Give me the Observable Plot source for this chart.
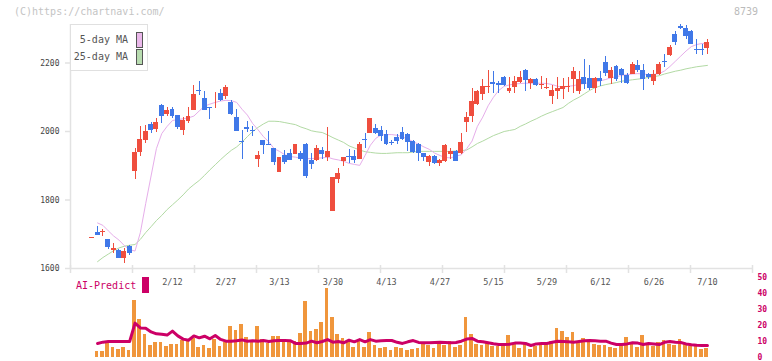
<!DOCTYPE html>
<html><head><meta charset="utf-8">
<script src="https://cdn.jsdelivr.net/npm/d3@7"></script>
<script src="https://cdn.jsdelivr.net/npm/@observablehq/plot@0.6"></script>
<style>
body{margin:0;background:#fff;}
#wrap{position:relative;width:772px;height:361px;overflow:hidden;font-family:"DejaVu Sans Mono",monospace;background:#fff;}
#wrap svg{position:absolute;left:0;}
#legend{position:absolute;left:70px;top:24px;width:76px;height:45px;border:1.5px solid #e0e0e0;background:#fff;}
.lrow{position:absolute;right:19px;font-size:10px;line-height:16px;color:#555;white-space:nowrap;}
.sw{position:absolute;left:65px;width:5px;height:14px;border:1px solid #555;}
</style></head><body><div id="wrap"></div>
<script>
// ---- data ----
const opens = [1688,1705,1705,1685,1653,1653,1630,1664,1884,1939,
1974,2020,2006,2076,2050,2064,2047,2003,2029,2061,
2120,2096,2069,2098,2111,2102,2085,2041,1971,2011,
2003,1919,1973,1962,1950,1881,1930,1935,1933,1937,
1962,1915,1915,1945,1925,1767,1860,1913,1927,1927,
1918,1977,1994,2009,2003,1991,1968,1983,1997,1991,
1971,1962,1936,1910,1927,1907,1912,1933,1942,1936,
2026,2044,2079,2108,2128,2142,2139,2159,2118,2129,
2144,2178,2141,2152,2133,2127,2103,2118,2123,2128,
2152,2116,2159,2155,2127,2155,2202,2155,2190,2181,
2164,2167,2193,2178,2166,2145,2166,2205,2222,2282,
2306,2300,2292,2240,2240,2243];
const highs = [1691,1723,1715,1685,1674,1655,1659,1666,1950,2016,
2017,2025,2039,2078,2071,2071,2047,2042,2069,2133,
2146,2116,2070,2114,2123,2133,2091,2064,2003,2029,
2015,1942,1973,1999,1951,1925,1945,1947,1962,1942,
1964,1936,1959,1954,2013,1866,1892,1925,1947,1945,
1969,1994,2038,2020,2015,2003,1974,1991,2012,1994,
1974,1965,1936,1930,1929,1918,1962,1950,1945,1994,
2056,2125,2120,2152,2178,2175,2147,2161,2158,2161,
2175,2180,2155,2155,2161,2155,2134,2158,2155,2158,
2187,2175,2210,2193,2157,2175,2219,2187,2193,2183,
2168,2202,2207,2196,2169,2178,2200,2225,2250,2292,
2312,2310,2295,2269,2254,2269];
const lows = [1688,1695,1694,1655,1645,1630,1615,1637,1861,1927,
1966,1995,1997,2024,2045,2039,2006,1988,2023,2061,
2105,2062,2036,2066,2089,2093,2048,2001,1919,1997,
1985,1895,1934,1958,1901,1881,1903,1915,1933,1912,
1864,1890,1913,1919,1912,1767,1848,1898,1907,1907,
1918,1950,1994,1991,1971,1959,1959,1962,1974,1942,
1936,1912,1912,1898,1904,1898,1910,1918,1912,1933,
1997,2027,2075,2091,2112,2112,2112,2130,2112,2112,
2141,2118,2124,2130,2124,2124,2080,2092,2092,2115,
2112,2109,2123,2121,2112,2130,2161,2136,2147,2141,
2138,2166,2172,2121,2153,2133,2164,2188,2220,2251,
2298,2269,2255,2226,2223,2226];
const closes = [1691,1697,1708,1662,1658,1630,1650,1643,1939,1977,
2000,2003,2026,2045,2061,2045,2011,2032,2045,2108,
2117,2062,2066,2100,2091,2129,2050,2001,1967,2007,
1999,1930,1958,1959,1910,1923,1910,1915,1962,1918,
1870,1904,1950,1933,1942,1866,1877,1924,1923,1915,
1962,1973,2038,1994,1985,1962,1964,1971,1977,1968,
1939,1936,1924,1927,1907,1915,1959,1942,1912,1968,
2041,2088,2117,2132,2132,2137,2134,2134,2126,2146,
2158,2149,2152,2133,2137,2129,2120,2126,2130,2131,
2175,2152,2136,2127,2155,2147,2168,2178,2153,2164,
2141,2196,2178,2153,2157,2167,2196,2200,2244,2259,
2302,2278,2255,2237,2236,2260];
// moving averages, read from index 1 onward
const ma5 = [1733,1726,1710,1695,1683,1667,1655,1651,1705,1790,
1870,1950,1994,2015,2032,2035,2037,2040,2045,2060,
2074,2080,2085,2089,2091,2090,2085,2065,2048,2023,
2005,1985,1970,1950,1942,1932,1927,1925,1922,1921,
1921,1922,1923,1925,1920,1917,1913,1907,1904,1901,
1930,1960,1980,1990,1991,1991,1989,1984,1978,1970,
1963,1955,1948,1937,1930,1924,1923,1928,1932,1950,
1972,2015,2042,2075,2100,2120,2132,2136,2139,2140,
2141,2141,2141,2141,2140,2137,2132,2129,2132,2134,
2138,2140,2143,2145,2148,2152,2157,2160,2164,2166,
2168,2169,2168,2166,2167,2169,2177,2190,2205,2220,
2235,2248,2254,2257,2257];
const ma25 = [1620,1632,1642,1652,1660,1665,1668,1670,1685,1705,
1722,1740,1755,1772,1786,1800,1815,1832,1845,1857,
1872,1888,1903,1918,1932,1945,1955,1969,1985,2000,
2012,2022,2030,2030,2029,2026,2023,2020,2013,2008,
2002,1999,1997,1990,1982,1975,1968,1958,1952,1946,
1941,1939,1937,1936,1936,1937,1938,1938,1938,1940,
1942,1942,1942,1942,1942,1942,1942,1943,1944,1946,
1955,1965,1972,1980,1988,1994,2000,2003,2006,2015,
2022,2030,2037,2045,2052,2058,2064,2070,2082,2092,
2100,2110,2120,2128,2133,2137,2140,2143,2147,2149,
2151,2153,2155,2158,2160,2163,2168,2172,2176,2179,
2183,2186,2189,2191,2193];
// bottom panel, from index 1 onward
const volumes = [4.0,4.0,8.8,6.0,5.0,6.2,4.4,35.6,23.8,14.4,
7.5,9.6,9.6,6.9,8.1,8.1,10.8,10.2,11.7,6.5,
7.5,5.4,11.2,6.9,9.2,19.4,16.9,20.6,12.5,10.8,
19.4,11.2,8.8,13.3,13.3,10.8,9.2,10.2,15.0,35.0,
16.2,17.5,22.1,42.9,24.8,14.4,11.8,10.8,6.5,10.5,
6.5,15.8,7.5,5.6,6.2,4.4,6.2,5.6,4.4,5.0,
5.6,8.1,7.5,5.6,8.8,7.5,10.2,6.5,7.5,25.0,
14.4,8.1,7.5,8.8,6.9,6.9,7.5,13.8,8.8,5.6,
8.1,5.0,6.9,8.8,7.5,10.0,18.1,16.2,12.5,15.6,
8.8,11.9,10.6,8.1,7.5,7.8,6.4,5.7,7.0,12.5,
8.5,6.4,13.8,7.5,7.1,9.2,10.8,8.1,7.5,11.2,
8.1,7.1,6.9,5.0,5.8];
const aiPredict = [8.8,9.6,10,10,10,10,10,21.5,18.5,18.3,
16,14.8,14.5,14,16.5,13.5,11.5,10.8,13.5,12.3,
13.3,11.7,13.7,11.3,10.2,10.2,10.5,11,10.2,10.5,
10.2,10.6,10,10.4,10.6,10.6,10.5,8.8,8.8,9,
10.2,9.2,10,11.2,9.6,10,9.2,10.8,9.8,11.2,
9.8,11.2,10.2,10.4,10.6,10.6,9.5,8.8,9.8,10.6,
9.4,9.2,9.2,9.4,9.6,9.4,9.2,9.4,10.2,11.5,
11.9,10.2,9.8,9.2,8.6,8.1,8.1,8.3,9.0,9.0,
8.75,7.5,8.5,8.75,8.75,9.5,10.2,10.0,9.8,9.6,
10.0,10.4,10.6,10.4,10.2,10.2,9,8.1,8.1,8.5,
9.2,9.0,8.1,8.75,8.4,8.1,9.5,10.0,9.6,9.4,
8.5,8.0,7.7,7.5,7.5];
const dateLabels = ["2/12","2/27","3/13","3/30","4/13","4/27","5/15","5/29","6/12","6/26","7/10"];
const labelIdx = [15,25,35,45,55,65,75,85,95,105,115];
const priceTicks = [1600,1800,2000,2200];
const predictTicks = [0,10,20,30,40,50];

// ---- build ----
const RED = "#ef4e3e", BLUE = "#4078e8";
const xDomain = [-4.06, 123.42];
const divisions = d3.range(12).map(k => xDomain[0] + k * (xDomain[1] - xDomain[0]) / 11);
const candles = opens.map((o, i) => ({i, open: o, high: highs[i], low: lows[i], close: closes[i], col: closes[i] >= o ? RED : BLUE}));
const ma5Rows = ma5.map((v, k) => ({i: k + 1, v}));
const ma25Rows = ma25.map((v, k) => ({i: k + 1, v}));
const volRows = volumes.map((v, k) => ({i: k + 1, v}));
const aiRows = aiPredict.map((v, k) => ({i: k + 1, v}));
const FONT = "DejaVu Sans Mono, monospace";

const topChart = Plot.plot({
  width: 772, height: 361, marginLeft: 70, marginRight: 20, marginTop: 24, marginBottom: 93,
  style: {background: "transparent", fontFamily: FONT, overflow: "visible"},
  x: {type: "linear", domain: xDomain, axis: null, label: null},
  y: {domain: [1600, 2312.4], axis: null, label: null},
  color: {type: "identity"},
  marks: [
    Plot.line(ma25Rows, {x: "i", y: "v", stroke: "#b2daa4", strokeWidth: 1}),
    Plot.line(ma5Rows, {x: "i", y: "v", stroke: "#e6aeea", strokeWidth: 1}),
    Plot.ruleX(candles, {x: "i", y1: "low", y2: "high", stroke: "col", strokeWidth: 1, shapeRendering: "crispEdges"}),
    Plot.rect(candles, {x1: d => d.i - 0.46, x2: d => d.i + 0.46, y1: "open", y2: "close", fill: "col", shapeRendering: "crispEdges"}),
    Plot.ruleY([1600], {stroke: "#e2e2e2", strokeWidth: 1.5}),
    Plot.ruleX([xDomain[0]], {stroke: "#e2e2e2", strokeWidth: 1.5}),
    Plot.axisX({ticks: divisions, tickSize: 8, dy: -3, tickFormat: () => "", stroke: "#e2e2e2", strokeWidth: 1.5, label: null}),
    Plot.axisX({ticks: labelIdx, tickSize: 0, tickPadding: 10, tickFormat: d => dateLabels[labelIdx.indexOf(d)], fill: "#555", fontSize: 8.5, label: null}),
    Plot.axisY({ticks: priceTicks, tickSize: 5, tickPadding: 6, tickFormat: d => String(d), stroke: "#e2e2e2", strokeWidth: 1.5, fill: "#444", fontSize: 8, label: null})
  ]
});

const bottomChart = Plot.plot({
  width: 772, height: 91, marginLeft: 70, marginRight: 20, marginTop: 7, marginBottom: 4,
  style: {background: "transparent", fontFamily: FONT, overflow: "visible"},
  x: {type: "linear", domain: xDomain, axis: null, label: null},
  y: {domain: [0, 50], axis: null, label: null},
  marks: [
    Plot.rectY(volRows, {x1: d => d.i - 0.47, x2: d => d.i + 0.22, y: "v", fill: "#f0963c", shapeRendering: "crispEdges"}),
    Plot.line(aiRows, {x: "i", y: "v", stroke: "#cc0066", strokeWidth: 3}),
    Plot.axisY({anchor: "right", ticks: predictTicks, tickSize: 0, tickPadding: 5, tickFormat: d => String(d), fill: "#cc0066", fontSize: 8, fontWeight: "bold", label: null})
  ]
});

const wrap = document.getElementById("wrap");
topChart.style.top = "0px";
wrap.appendChild(topChart);
bottomChart.style.top = "270px";
wrap.appendChild(bottomChart);

function addDiv(html, css) {
  const d = document.createElement("div");
  d.innerHTML = html;
  Object.assign(d.style, css);
  wrap.appendChild(d);
  return d;
}
addDiv("(C)https://chartnavi.com/", {position: "absolute", left: "14px", top: "6px", fontSize: "10px", lineHeight: "12px", color: "#c4c4c4", whiteSpace: "nowrap"});
addDiv("8739", {position: "absolute", left: "734px", top: "6px", fontSize: "10px", lineHeight: "12px", color: "#bbb"});
addDiv("AI-Predict", {position: "absolute", left: "76px", top: "279px", fontSize: "10px", lineHeight: "14px", color: "#cc0066", whiteSpace: "nowrap"});
addDiv("", {position: "absolute", left: "142px", top: "277px", width: "7px", height: "16px", background: "#cc0066"});
const legend = addDiv(
  '<div class="lrow" style="top:7px">5-day MA</div><div class="sw" style="top:7px;background:#eab8ea"></div>' +
  '<div class="lrow" style="top:24px">25-day MA</div><div class="sw" style="top:24px;background:#b8dcb0"></div>', {});
legend.id = "legend";
</script></body></html>
